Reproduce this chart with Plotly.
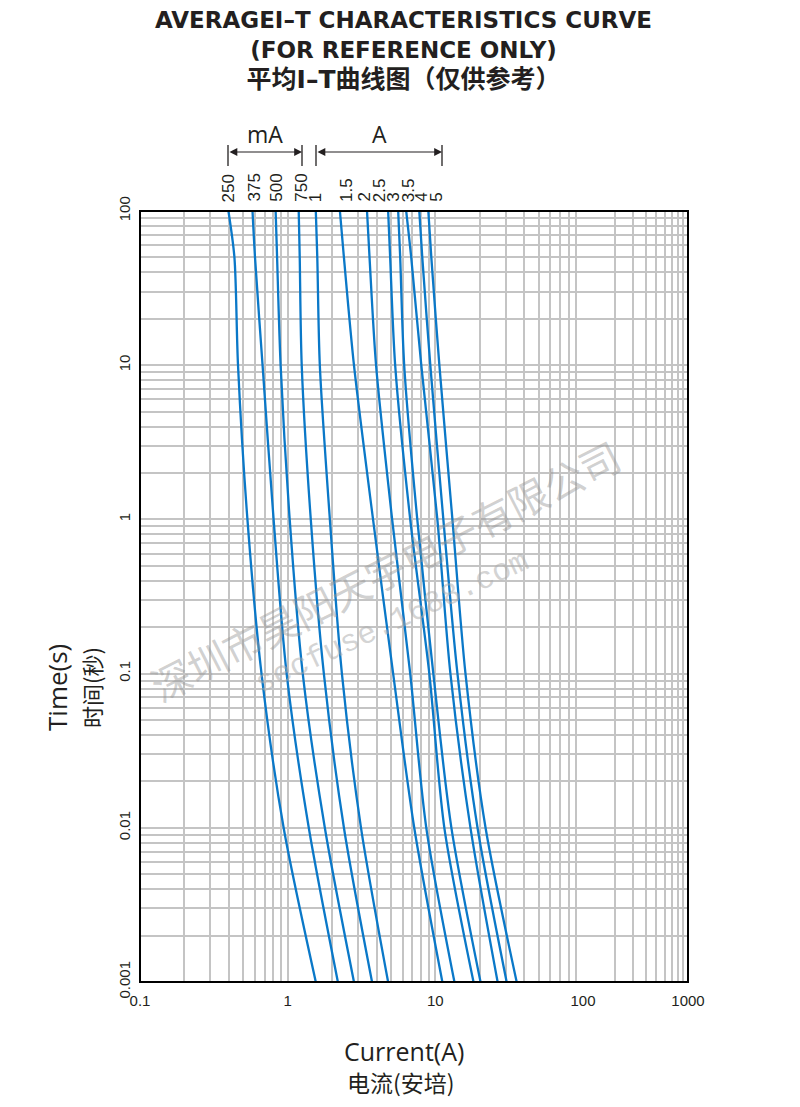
import math
import plotly.graph_objects as go

# ---------------- data ----------------
ratings = ["250", "375", "500", "750", "1", "1.5", "2", "2.5", "3", "3.5", "4", "5"]
times_s = [100, 50, 10, 1, 0.1, 0.01, 0.001]

current_250mA = [0.397, 0.436, 0.461, 0.534, 0.665, 0.939, 1.551]
current_375mA = [0.578, 0.601, 0.676, 0.803, 0.984, 1.390, 2.188]
current_500mA = [0.829, 0.848, 0.896, 1.032, 1.265, 1.785, 2.812]
current_750mA = [1.188, 1.207, 1.245, 1.434, 1.758, 2.404, 3.727]
current_1A = [1.551, 1.587, 1.651, 1.931, 2.330, 3.138, 4.790]
current_1_5A = [2.258, 2.404, 2.812, 3.786, 5.180, 7.197, 11.16]
current_2A = [3.446, 3.584, 3.968, 5.099, 6.760, 8.685, 13.47]
current_2_5A = [4.790, 4.943, 5.345, 6.760, 9.105, 11.51, 18.14]
current_3A = [5.602, 5.781, 6.153, 7.545, 9.691, 12.85, 20.24]
current_3_5A = [6.349, 6.866, 8.032, 10.32, 12.65, 17.30, 26.42]
current_4A = [7.785, 8.158, 9.247, 11.33, 14.12, 19.31, 30.41]
current_5A = [8.964, 9.393, 10.65, 13.05, 16.00, 21.88, 35.56]

curves = [current_250mA, current_375mA, current_500mA, current_750mA, current_1A,
          current_1_5A, current_2A, current_2_5A, current_3A, current_3_5A,
          current_4A, current_5A]

x_major_labels = {0.1: "0.1", 1: "1", 10: "10", 100: "100"}
x2_major_labels = {1000: "1000"}
y_major_labels = {0.001: "0.001", 0.01: "0.01", 0.1: "0.1", 1: "1", 10: "10", 100: "100"}

# ---------------- styling ----------------
CURVE = "#0a78c8"
GRID = "#c4c4c4"
INK = "#231f20"
FONT = "Liberation Sans, Noto Sans CJK SC, sans-serif"
OPEN = "Open Sans, Noto Sans CJK SC, sans-serif"
CJK = "Noto Sans CJK SC, sans-serif"
# small horizontal nudges (px) so the rating labels are spread like the reference
label_nudge = [0, 1, 0, 2, 0, 6, -3, -9, -5, 2, 2, 8]

def grid_vals(lo_exp, hi_exp):
    vals = []
    for e in range(lo_exp, hi_exp):
        for m in range(1, 10):
            vals.append(round(m * 10 ** e, 6))
    vals.append(round(10 ** hi_exp, 6))
    return vals

xv = grid_vals(-1, 2)
x2v = grid_vals(2, 3)
yv = grid_vals(-3, 2)

fig = go.Figure()
for cur in curves:
    fig.add_trace(go.Scatter(
        x=cur, y=times_s, mode="lines", xaxis="x", yaxis="y",
        line=dict(color=CURVE, width=2.3, shape="spline", smoothing=0.8),
        showlegend=False, hoverinfo="skip"))
# register the compressed last-decade subplot
fig.add_trace(go.Scatter(x=[], y=[], xaxis="x2", yaxis="y", showlegend=False))

split = (583 - 140) / 548.0

axis_common = dict(type="log", showgrid=True, gridcolor=GRID, gridwidth=1.6,
                   zeroline=False, showline=False, ticks="",
                   tickfont=dict(family=FONT, size=15, color=INK))

# the page body has an 8px margin, so margins are shifted to place the plot at
# x 140..688, y 211..982 in the window
fig.update_layout(
    width=800, height=1107,
    margin=dict(l=132, r=120, t=203, b=133),
    paper_bgcolor="white", plot_bgcolor="white",
    xaxis=dict(axis_common, domain=[0, split], range=[-1, 2], anchor="y",
               tickvals=xv, ticktext=[x_major_labels.get(v, "") for v in xv],
               ticklabelstandoff=8),
    xaxis2=dict(axis_common, domain=[split, 1], range=[2, 3], anchor="y",
                tickvals=x2v, ticktext=[x2_major_labels.get(v, "") for v in x2v],
                ticklabelstandoff=8),
    yaxis=dict(axis_common, domain=[0, 1], range=[-3, 2], anchor="x",
               tickvals=yv, ticktext=[y_major_labels.get(v, "") for v in yv],
               tickangle=-90, ticklabelstandoff=6),
)

# frame
fig.add_shape(type="rect", xref="paper", yref="paper", x0=0, x1=1, y0=0, y1=1,
              line=dict(color="black", width=2), layer="above")

def px_x(px):
    return (px - 140) / 548.0

def px_y(py):
    return (982 - py) / 771.0

def text_ann(px, py, text, font, angle=0):
    return dict(x=px_x(px), y=px_y(py), xref="paper", yref="paper",
                xanchor="center", yanchor="middle", text=text,
                showarrow=False, textangle=angle, font=font)

ann = []
# rating labels above each curve
for lab, cur, nud in zip(ratings, curves, label_nudge):
    ann.append(dict(x=math.log10(cur[0]), xref="x", y=1, yref="paper",
                    text=lab, showarrow=False, textangle=-90,
                    xanchor="center", yanchor="bottom", yshift=7, xshift=nud,
                    font=dict(family=FONT, size=17, color=INK)))

# mA / A brackets
for (l, r, lab) in [(228, 302, "mA"), (316, 442, "A")]:
    ann.append(dict(x=px_x(r), y=px_y(152), xref="paper", yref="paper",
                    ax=-(r - l), ay=0, axref="pixel", ayref="pixel",
                    text="", showarrow=True, arrowhead=2, arrowside="end+start",
                    arrowsize=1.3, arrowwidth=1.2, arrowcolor=INK, standoff=0,
                    startstandoff=0))
    for px in (l, r):
        fig.add_shape(type="line", xref="paper", yref="paper",
                      x0=px_x(px), x1=px_x(px), y0=px_y(145), y1=px_y(166),
                      line=dict(color=INK, width=1.3))
    ann.append(text_ann((l + r) / 2, 134, lab, dict(family=OPEN, size=23, color=INK)))

# title (one text block, three lines)
ann.append(text_ann(403, 50,
                    "<b>AVERAGEI–T CHARACTERISTICS CURVE<br>(FOR REFERENCE ONLY)<br>"
                    "<span style='font-size:25px'>平均I–T曲线图（仅供参考）</span></b>",
                    dict(family="DejaVu Sans, Noto Sans CJK SC, sans-serif", size=23, color=INK)))

# axis titles
ann.append(text_ann(57, 688, "Time(s)", dict(family=OPEN, size=26, color=INK), -90))
ann.append(text_ann(91, 688, "时间(秒)", dict(family=CJK, size=22, color=INK), -90))
ann.append(text_ann(404, 1051, "Current(A)", dict(family=OPEN, size=25, color=INK)))
ann.append(text_ann(401, 1082, "电流(安培)", dict(family=CJK, size=23, color=INK)))

# watermark
ann.append(text_ann(385, 570, "深圳市昊阳天宇电子有限公司",
                    dict(family=CJK, size=40, color="rgba(150,150,150,0.45)"), -27))
ann.append(text_ann(392, 622, "secfuse.1688.com",
                    dict(family="Liberation Mono, monospace", size=31,
                         color="rgba(170,170,170,0.5)"), -25))

fig.update_layout(annotations=ann)
fig.write_html("out.html")
